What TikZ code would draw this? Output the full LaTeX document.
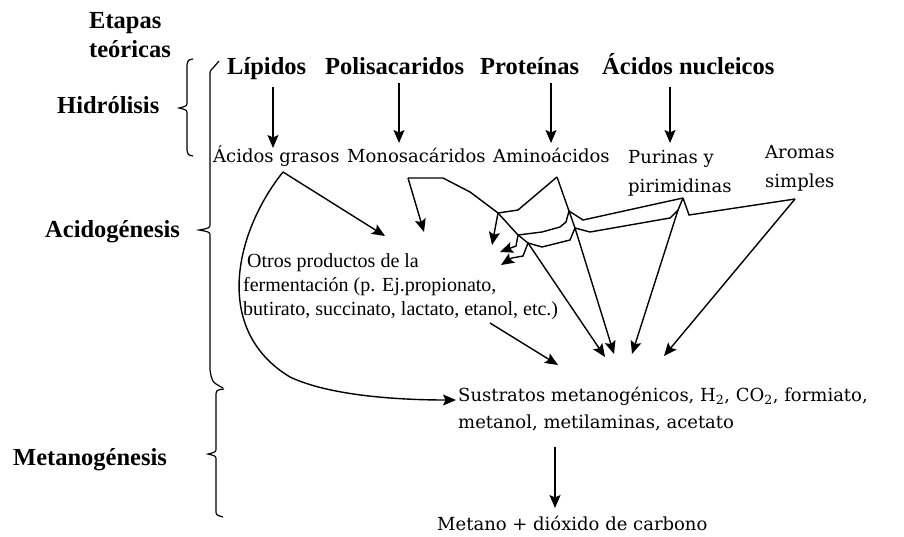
\documentclass[tikz,border=0pt]{standalone}
\usepackage{fontspec}
\newfontfamily\regf{DejaVu Serif}
\newfontfamily\tmsf{Liberation Serif}
\usetikzlibrary{arrows.meta}
\begin{document}
\begin{tikzpicture}[x=1pt,y=-1pt,
  arr/.style={line width=1.4pt, -{Stealth[length=13pt,width=11pt,inset=2.5pt]}},
  ln/.style={line width=1.4pt},
  brc/.style={line width=1.2pt},
  head/.style={font=\tmsf\bfseries\fontsize{24.5}{28}\selectfont, anchor=base west, inner sep=0pt},
  txt/.style={font=\regf\fontsize{18}{22}\selectfont, anchor=base west, inner sep=0pt},
  sml/.style={font=\tmsf\fontsize{20}{24}\selectfont, anchor=base west, inner sep=0pt}]
\useasboundingbox[fill=white] (0,0) rectangle (904,536);

% stage labels
\node[head] (etA) at (89,28) {Etapas};
\node[head] (etB) at (89,57) {teóricas};
\node[head] (hid) at (57,113) {Hidrólisis};
\node[head] (aci) at (45,237) {Acidogénesis};
\node[head] (met) at (13,465) {Metanogénesis};

% braces
\draw[brc] (193,59) .. controls (188,60) .. (187,65) -- (187,102) .. controls (187,106) .. (179,108)
  .. controls (187,110) .. (187,114) -- (187,150) .. controls (188,155) .. (193,156);
\draw[brc] (219,61) -- (213,68) .. controls (210,71) .. (210,76) -- (210,224) .. controls (210,228) .. (199,230)
  .. controls (210,232) .. (210,236) -- (210,370) .. controls (212,382) .. (223,388);
\draw[brc] (224,389) .. controls (216,390) .. (216,397) -- (216,448) .. controls (216,452) .. (208,454)
  .. controls (216,456) .. (216,460) -- (216,510) .. controls (216,515) .. (223,517);

% top row
\node[head] (lip) at (227,74) {Lípidos};
\node[head] (pol) at (325,74) {Polisacaridos};
\node[head] (pro) at (480,74) {Proteínas};
\node[head] (acn) at (602,74) {Ácidos nucleicos};

% second row
\node[txt] (acg) at (213,162) {Ácidos grasos};
\node[txt] (mon) at (347,162) {Monosacáridos};
\node[txt] (ami) at (493,162) {Aminoácidos};
\node[txt] (purA) at (628,163) {Purinas y};
\node[txt] (purB) at (628,192) {pirimidinas};
\node[txt] (aroA) at (765,158) {Aromas};
\node[txt] (aroB) at (765,187) {simples};

% other products
\node[sml] (otA) at (247,267) {Otros productos de la};
\node[sml] (otB) at (243,291) {fermentación (p. Ej.propionato,};
\node[sml] (otC) at (243,315) {butirato, succinato, lactato, etanol, etc.)};

% substrates and end product
\node[txt] (susA) at (458,401) {Sustratos metanogénicos, H\textsubscript{2}, CO\textsubscript{2}, formiato,};
\node[txt] (susB) at (458,428) {metanol, metilaminas, acetato};
\node[txt] (fin) at (437,530) {Metano + dióxido de carbono};

% hydrolysis arrows
\coordinate (lipS) at (273,87);  \coordinate (lipE) at (273,148);
\coordinate (polS) at (399,83);  \coordinate (polE) at (399,143);
\coordinate (proS) at (551,83);  \coordinate (proE) at (551,143);
\coordinate (acnS) at (670,87);  \coordinate (acnE) at (670,143);
\draw[arr] (lipS) -- (lipE);
\draw[arr] (polS) -- (polE);
\draw[arr] (proS) -- (proE);
\draw[arr] (acnS) -- (acnE);

% junction points
\coordinate (g0) at (283,172);
\coordinate (m0) at (408,178);
\coordinate (a0) at (557,177);
\coordinate (p0) at (683,198);
\coordinate (p2) at (678,210);
\coordinate (r0) at (795,199);
\coordinate (J1) at (498,213);
\coordinate (J2) at (518,235);
\coordinate (J3) at (528,243);
\coordinate (J4) at (569,211);
\coordinate (J5) at (575,228);
\coordinate (o1) at (385,236);
\coordinate (o2) at (424,232);
\coordinate (o3) at (492,245);
\coordinate (o4) at (500,252);
\coordinate (o5) at (501,265);
\coordinate (s0) at (456,400);
\coordinate (s1) at (558,365);
\coordinate (s2) at (605,357);
\coordinate (s3) at (614,354);
\coordinate (s4) at (632,354);
\coordinate (s5) at (664,356);
\coordinate (otE) at (490,323);
\coordinate (susS) at (555,447);
\coordinate (susE) at (555,508);

% fatty acids
\draw[arr] (g0) -- (o1);
\draw[arr] (g0) .. controls (235,232) and (212,330) .. (290,377) .. controls (330,396) and (400,400) .. (s0);
% monosaccharides
\draw[arr] (m0) -- (o2);
\draw[arr] (m0) -- (443,178) -- (470,192) -- (J1) -- (J2) -- (J3) -- (s2);
% amino acids
\draw[arr] (a0) -- (518,210) -- (J1) -- (o3);
\draw[arr] (a0) -- (J4) -- (J5) -- (s3);
\draw[arr] (J4) -- (566,222) -- (560,227) -- (542,232) -- (J2) -- (516,246) -- (o4);
% purines
\draw[ln] (p0) -- (583,220) -- (J4);
\draw[arr] (p0) -- (p2) -- (s4);
\draw[ln] (p2) -- (670,218) -- (590,232) -- (J5);
\draw[arr] (J5) -- (570,240) -- (542,247) -- (J3) -- (523,256) -- (512,258) -- (o5);
% aromas
\draw[ln] (r0) -- (689,215) -- (p0);
\draw[arr] (r0) -- (s5);
% other products to substrates
\draw[arr] (otE) -- (s1);
% substrates to methane
\draw[arr] (susS) -- (susE);
\end{tikzpicture}
\end{document}
